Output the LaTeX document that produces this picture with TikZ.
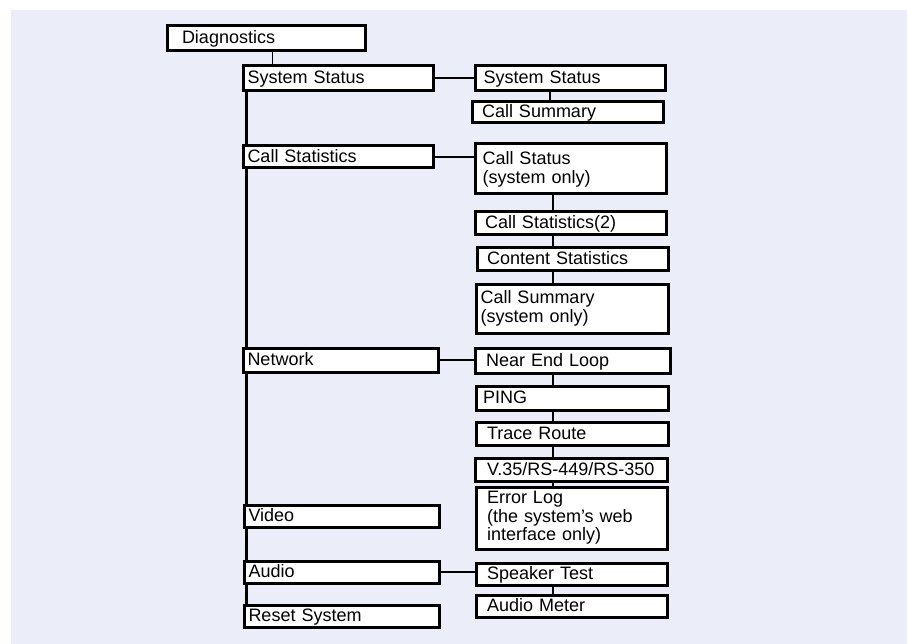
\documentclass[tikz,border=0pt]{standalone}
\usepackage{fontspec}
\setmainfont{Liberation Sans}
\newcommand\boxfont{\fontsize{18}{19}\selectfont}
\pgfdeclarelayer{back}
\pgfsetlayers{back,main}
\definecolor{bgblue}{RGB}{235,238,249}
\tikzset{
  box/.style={draw, line width=3pt, fill=white, anchor=north west, inner sep=0pt,
    align=left, font=\boxfont},
  one/.style={text height=13pt, text depth=2pt},
  thinc/.style={line width=1pt},
  trunk/.style={line width=3pt},
  link/.style={line width=2pt},
}
\begin{document}
\begin{tikzpicture}[x=1pt,y=-1pt]
\useasboundingbox (0,0) rectangle (907,644);
% left column
\node[box,one,text width=198pt,minimum height=25pt] (diag) at (165.5,24.5) {\hspace*{15pt}Diagnostics};
\node[box,one,text width=190pt,minimum height=25pt] (ss1) at (241.5,64.5) {\hspace*{4.5pt}System Status};
\node[box,one,text width=190pt,minimum height=22pt] (cs1) at (241.5,144.5) {\hspace*{4.5pt}Call Statistics};
\node[box,one,text width=195pt,minimum height=24pt] (net) at (241.5,346.5) {\hspace*{4.5pt}Network};
\node[box,one,text width=195pt,minimum height=22pt] (video) at (242.5,503.5) {\hspace*{4.5pt}Video};
\node[box,one,text width=195pt,minimum height=22pt] (audio) at (242.5,559.5) {\hspace*{4.5pt}Audio};
\node[box,one,text width=195pt,minimum height=22pt] (reset) at (242.5,603.5) {\hspace*{4.5pt}Reset System};
% right column
\node[box,one,text width=190pt,minimum height=25pt] (ssr) at (473.5,64.5) {\hspace*{8.5pt}System Status};
\node[box,one,text width=191pt,minimum height=21pt] (csum) at (470.5,100.5) {\hspace*{10pt}Call Summary};
\node[box,text width=191pt,minimum height=50pt] (cstat) at (473.5,142.5) {\hspace*{7.5pt}Call Status\\\hspace*{7.5pt}(system only)};
\node[box,one,text width=191pt,minimum height=23pt] (cs2) at (473.5,210.5) {\hspace*{10pt}Call Statistics(2)};
\node[box,one,text width=191pt,minimum height=23pt] (content) at (475.5,246.5) {\hspace*{10pt}Content Statistics};
\node[box,text width=192pt,minimum height=49pt] (csum2) at (474.5,282.5) {\hspace*{4.5pt}Call Summary\\\hspace*{4.5pt}(system only)};
\node[box,one,text width=195pt,minimum height=25pt] (nel) at (473.5,346.5) {\hspace*{11pt}Near End Loop};
\node[box,one,text width=192pt,minimum height=24pt] (ping) at (474.5,384.5) {\hspace*{7pt}PING};
\node[box,one,text width=192pt,minimum height=23pt] (trace) at (474.5,420.5) {\hspace*{11pt}Trace Route};
\node[box,one,text width=192pt,minimum height=23pt] (v35) at (473.5,456.5) {\hspace*{12pt}V.35/RS-449/RS-350};
\node[box,text width=191pt,minimum height=62pt,font=\fontsize{18}{18.5}\selectfont] (errlog) at (474.5,485.5) {\hspace*{11pt}Error Log\\\hspace*{11pt}(the system’s web\\\hspace*{11pt}interface only)};
\node[box,one,text width=191pt,minimum height=22pt] (speaker) at (474.5,561.5) {\hspace*{11pt}Speaker Test};
\node[box,one,text width=191pt,minimum height=22pt] (meter) at (474.5,593.5) {\hspace*{11pt}Audio Meter};
\coordinate (va) at (550,0);
\coordinate (vb) at (553,0);
\coordinate (vd) at (272,0);
\coordinate (vt) at (246,0);
\begin{pgfonlayer}{back}
\fill[bgblue] (11,10) rectangle (907,644);
\draw[thinc] (diag.south -| vd) -- (ss1.north -| vd);
\draw[trunk] (ss1.south -| vt) -- (reset.north -| vt);
\draw[link] (ss1.east) -- (ss1.east -| ssr.west);
\draw[link] (cs1.east) -- (cs1.east -| cstat.west);
\draw[link] (net.east) -- (net.east -| nel.west);
\draw[link] (audio.east) -- (audio.east -| speaker.west);
\draw[link] (ssr.south -| va) -- (csum.north -| va);
\draw[link] (cstat.south -| vb) -- (cs2.north -| vb);
\draw[link] (cs2.south -| vb) -- (content.north -| vb);
\draw[link] (content.south -| vb) -- (csum2.north -| vb);
\draw[link] (nel.south -| vb) -- (ping.north -| vb);
\draw[link] (ping.south -| vb) -- (trace.north -| vb);
\draw[link] (trace.south -| vb) -- (v35.north -| vb);
\draw[link] (v35.south -| vb) -- (errlog.north -| vb);
\draw[link] (speaker.south -| vb) -- (meter.north -| vb);
\end{pgfonlayer}
\end{tikzpicture}
\end{document}
